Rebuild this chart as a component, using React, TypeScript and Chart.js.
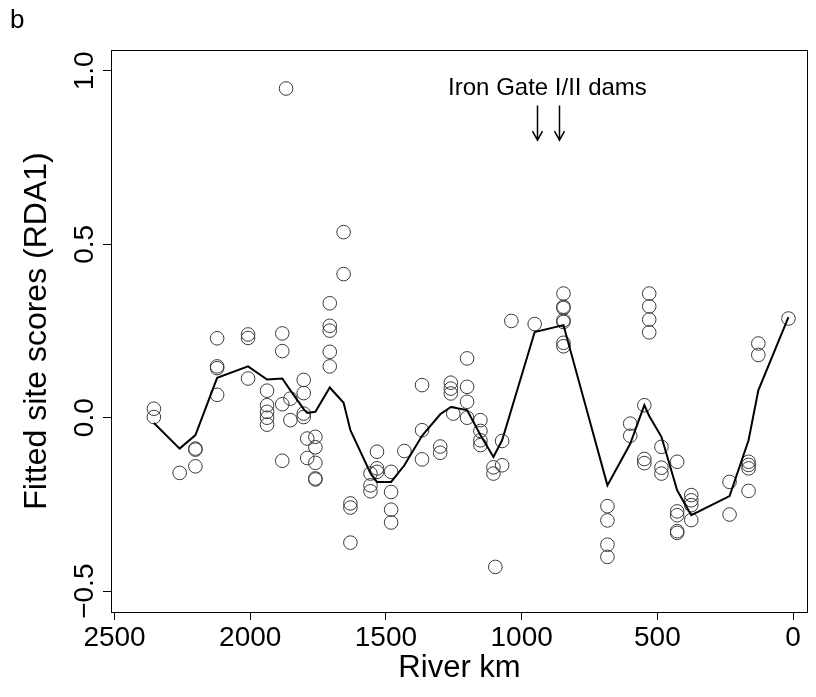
import React, { useEffect, useRef } from 'react';
import { Chart, registerables } from 'chart.js';

Chart.register(...registerables);

// ---- data ----
const panelLetter = 'b';
const xTitle = 'River km';
const yTitle = 'Fitted site scores (RDA1)';
const damLabel = 'Iron Gate I/II dams';
const damKm = [943, 863];

const xTicks = [2500, 2000, 1500, 1000, 500, 0];
const xTickLabels = ['2500', '2000', '1500', '1000', '500', '0'];
const yTicks = [-0.5, 0.0, 0.5, 1.0];
const yTickLabels = ['\u22120.5', '0.0', '0.5', '1.0'];

// individual samples (river km, fitted RDA1 site score)
const sampleKm = [
  2355, 2355,
  2260,
  2202, 2202, 2202,
  2122, 2122, 2122, 2122,
  2008, 2008, 2008,
  1938, 1938, 1938, 1938, 1938,
  1882, 1882, 1882, 1882,
  1868,
  1852, 1852,
  1803, 1803, 1803, 1803,
  1790, 1790,
  1760, 1760, 1760, 1760, 1760,
  1707, 1707, 1707, 1707, 1707,
  1656, 1656,
  1631, 1631, 1631,
  1557, 1557, 1557,
  1533, 1533, 1533,
  1481, 1481, 1481, 1481,
  1432,
  1367, 1367, 1367,
  1300, 1300,
  1261, 1261, 1261, 1252,
  1201, 1201, 1201, 1201,
  1152, 1152, 1152, 1152,
  1104, 1104, 1097,
  1072, 1072,
  1038,
  952,
  846, 846, 846, 846, 846, 846, 846,
  684, 684, 684, 684,
  600, 600,
  548, 548, 548,
  530, 530, 530, 530,
  485, 485, 485,
  427, 427, 427, 427, 427,
  375, 375, 375, 375,
  234, 234,
  164, 164, 164, 164,
  128, 128,
  17,
];
const sampleScore = [
  0.026, 0.002,
  -0.159,
  -0.089, -0.092, -0.140,
  0.229, 0.148, 0.143, 0.066,
  0.240, 0.230, 0.113,
  0.078, 0.036, 0.017, 0.000, -0.020,
  0.243, 0.192, 0.039, -0.124,
  0.949,
  0.055, -0.007,
  0.109, 0.071, 0.012, 0.002,
  -0.060, -0.116,
  -0.055, -0.085, -0.130, -0.175, -0.178,
  0.330, 0.265, 0.251, 0.190, 0.148,
  0.535, 0.414,
  -0.247, -0.259, -0.360,
  -0.161, -0.195, -0.212,
  -0.098, -0.146, -0.156,
  -0.156, -0.214, -0.265, -0.302,
  -0.096,
  0.094, -0.036, -0.120,
  -0.083, -0.101,
  0.101, 0.084, 0.070, 0.012,
  0.171, 0.089, 0.046, 0.000,
  -0.007, -0.038, -0.065, -0.079,
  -0.143, -0.161, -0.430,
  -0.067, -0.137,
  0.279,
  0.270,
  0.358, 0.320, 0.316, 0.281, 0.276, 0.216, 0.206,
  -0.255, -0.296, -0.366, -0.401,
  -0.017, -0.052,
  0.036, -0.119, -0.131,
  0.358, 0.321, 0.283, 0.246,
  -0.084, -0.144, -0.161,
  -0.127, -0.270, -0.281, -0.327, -0.332,
  -0.223, -0.238, -0.252, -0.295,
  -0.185, -0.279,
  -0.127, -0.136, -0.146, -0.211,
  0.214, 0.181,
  0.286,
];

// fitted (smoothed) line along the river
const lineKm = [
  2355, 2260, 2202, 2122, 2008, 1938, 1882, 1852, 1803, 1790, 1760, 1707, 1656, 1631,
  1557, 1533, 1481, 1432, 1367, 1300, 1261, 1201, 1152, 1104, 1072, 952, 846, 684,
  600, 548, 530, 485, 427, 375, 234, 164, 128, 17,
];
const lineScore = [
  -0.015, -0.089, -0.050, 0.115, 0.148, 0.110, 0.113, 0.079, 0.025, 0.014, 0.017, 0.087, 0.043, -0.036,
  -0.160, -0.185, -0.185, -0.137, -0.052, 0.010, 0.031, 0.022, -0.050, -0.113, -0.065, 0.247, 0.267, -0.195,
  -0.075, 0.036, 0.005, -0.055, -0.209, -0.281, -0.226, -0.065, 0.079, 0.290,
];

const FONT = '"Liberation Sans", Arial, Helvetica, sans-serif';

const annotations = {
  id: 'rStyleAnnotations',
  afterDraw(chart: any) {
    const { ctx, chartArea: a, scales } = chart;
    const x = scales.x;
    const y = scales.y;
    ctx.save();
    // full box
    ctx.strokeStyle = '#000';
    ctx.lineWidth = 1;
    ctx.strokeRect(a.left + 0.5, a.top + 0.5, a.right - a.left - 1, a.bottom - a.top);

    ctx.fillStyle = '#000';
    // rotated y tick labels
    ctx.font = `28px ${FONT}`;
    yTicks.forEach((v, i) => {
      const py = y.getPixelForValue(v);
      ctx.save();
      ctx.translate(85, py);
      ctx.rotate(-Math.PI / 2);
      ctx.textAlign = 'center';
      ctx.textBaseline = 'middle';
      ctx.fillText(yTickLabels[i], 0, 0);
      ctx.restore();
    });

    // axis titles
    ctx.font = `31px ${FONT}`;
    ctx.textAlign = 'center';
    ctx.textBaseline = 'middle';
    ctx.fillText(xTitle, (a.left + a.right) / 2, 668);
    ctx.font = `32px ${FONT}`;
    ctx.save();
    ctx.translate(37, (a.top + a.bottom) / 2);
    ctx.rotate(-Math.PI / 2);
    ctx.fillText(yTitle, 0, 0);
    ctx.restore();

    // panel letter
    ctx.font = `26px ${FONT}`;
    ctx.textAlign = 'left';
    ctx.textBaseline = 'alphabetic';
    ctx.fillText(panelLetter, 10, 28);

    // dam annotation
    const labelX = (x.getPixelForValue(damKm[0]) + x.getPixelForValue(damKm[1])) / 2;
    ctx.font = `24px ${FONT}`;
    ctx.textAlign = 'center';
    ctx.textBaseline = 'middle';
    ctx.fillText(damLabel, labelX - 0.5, y.getPixelForValue(0.95));

    ctx.strokeStyle = '#000';
    ctx.lineWidth = 1.5;
    damKm.forEach((km) => {
      const px = Math.round(x.getPixelForValue(km)) + 0.5;
      const y0 = y.getPixelForValue(0.9);
      const y1 = y.getPixelForValue(0.8);
      ctx.beginPath();
      ctx.moveTo(px, y0);
      ctx.lineTo(px, y1);
      ctx.moveTo(px - 5, y1 - 9);
      ctx.lineTo(px, y1);
      ctx.lineTo(px + 5, y1 - 9);
      ctx.stroke();
    });
    ctx.restore();
  },
};

export default function App() {
  const ref = useRef<HTMLCanvasElement | null>(null);

  useEffect(() => {
    if (!ref.current) return;
    const samples = sampleKm.map((k, i) => ({ x: k, y: sampleScore[i] }));
    const fitted = lineKm.map((k, i) => ({ x: k, y: lineScore[i] }));
    const chart = new Chart(ref.current, {
      type: 'scatter',
      data: {
        datasets: [
          {
            label: 'fitted',
            data: fitted,
            showLine: true,
            borderColor: '#000',
            borderWidth: 2,
            pointRadius: 0,
            fill: false,
            tension: 0,
            order: 1,
          } as any,
          {
            label: 'samples',
            data: samples,
            pointStyle: 'circle',
            pointRadius: 6.8,
            pointBorderWidth: 1,
            pointBorderColor: '#3a3a3a',
            pointBackgroundColor: 'rgba(0,0,0,0)',
            showLine: false,
            order: 2,
          } as any,
        ],
      },
      options: {
        animation: false,
        responsive: false,
        maintainAspectRatio: false,
        events: [],
        layout: { padding: { left: 0, right: 8, top: 50, bottom: 0 } },
        plugins: { legend: { display: false }, tooltip: { enabled: false } },
        scales: {
          x: {
            type: 'linear',
            reverse: true,
            min: -55,
            max: 2513,
            afterBuildTicks: (s: any) => {
              s.ticks = xTicks.map((v) => ({ value: v }));
            },
            afterFit: (s: any) => {
              s.height = 85;
            },
            grid: { drawOnChartArea: false, drawTicks: true, tickLength: 8, color: '#000', lineWidth: 1 },
            border: { display: false },
            ticks: {
              display: true,
              autoSkip: false,
              maxRotation: 0,
              minRotation: 0,
              padding: 1,
              color: '#000',
              font: { family: FONT, size: 28 },
              callback: (v: any) => {
                const i = xTicks.indexOf(Number(v));
                return i >= 0 ? xTickLabels[i] : '';
              },
            },
          },
          y: {
            type: 'linear',
            min: -0.56,
            max: 1.06,
            afterBuildTicks: (s: any) => {
              s.ticks = yTicks.map((v) => ({ value: v }));
            },
            afterFit: (s: any) => {
              s.width = 111;
            },
            grid: { drawOnChartArea: false, drawTicks: true, tickLength: 8, color: '#000', lineWidth: 1 },
            border: { display: false },
            ticks: { display: false },
          },
        },
      },
      plugins: [annotations],
    });
    return () => chart.destroy();
  }, []);

  return (
    <div style={{ position: 'fixed', left: 0, top: 0, width: 816, height: 697, background: '#fff' }}>
      <canvas ref={ref} width={816} height={697} style={{ width: 816, height: 697, display: 'block' }} />
    </div>
  );
}
